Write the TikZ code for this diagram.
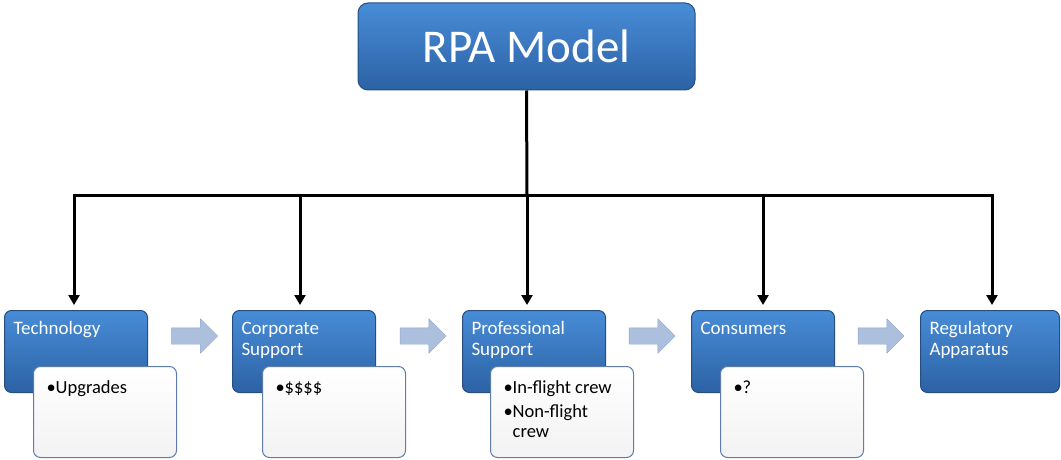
\documentclass[tikz,border=0pt]{standalone}
\usepackage{fontspec}
\setmainfont{Carlito}
\usetikzlibrary{arrows.meta,positioning,shapes.arrows}
\definecolor{RPABlueTop}{RGB}{72,140,215}
\definecolor{RPABlueBottom}{RGB}{44,98,165}
\definecolor{RPABlueEdge}{RGB}{38,78,128}
\definecolor{NoteEdge}{RGB}{95,125,172}
\definecolor{FlowFill}{RGB}{172,192,222}
\definecolor{FlowEdge}{RGB}{140,165,205}

\newcommand{\noteItem}[1]{\par\parskip=4pt\setbox0\hbox{•}\hangindent=\wd0 \noindent•\strut#1}

\begin{document}
\begin{tikzpicture}[
        x=1pt,y=-1pt,
        every node/.style={font=\fontsize{18.5}{20}\selectfont},
        topBox/.style={draw=RPABlueEdge,line width=1pt,rounded corners=10pt,top color=RPABlueTop,bottom color=RPABlueBottom,text=white,minimum width=337pt,minimum height=87pt,inner sep=0pt,font=\fontsize{47}{56}\selectfont},
        stageBox/.style={draw=RPABlueEdge,line width=1pt,rounded corners=7pt,top color=RPABlueTop,bottom color=RPABlueBottom,text=white,anchor=north west,inner xsep=9pt,inner ysep=10pt,font=\fontsize{19}{20.5}\selectfont},
        noteBox/.style={draw=NoteEdge,line width=1pt,rounded corners=7pt,top color=white,bottom color=black!5,text=black,anchor=north west,inner xsep=13pt,inner ysep=13pt},
        flowArrow/.style={single arrow,draw=FlowEdge,fill=FlowFill,inner sep=8pt,minimum height=46pt,single arrow head extend=9pt,single arrow head indent=0pt},
        tree/.style={line width=3pt},
        treeArrow/.style={tree,-{Triangle[length=10pt,width=11pt]},shorten >=5pt}]
        \useasboundingbox (0,0) rectangle (1061,460);
        \node[topBox] (rpa) at (526.5,46.5) {RPA Model};
        % stages
        \node[stageBox] (tech) at (4,310) {\parbox[t][62pt][t]{125pt}{\raggedright\strut Technology}};
        \node[stageBox] (corp) at (232,310) {\parbox[t][62pt][t]{125pt}{\raggedright\strut Corporate\\Support}};
        \node[stageBox] (prof) at (462,310) {\parbox[t][62pt][t]{125pt}{\raggedright\strut Professional\\Support}};
        \node[stageBox] (cons) at (691,310) {\parbox[t][62pt][t]{125pt}{\raggedright\strut Consumers}};
        \node[stageBox] (reg) at (920,310) {\parbox[t][62pt][t]{121pt}{\raggedright\strut Regulatory\\Apparatus}};
        % notes under the stages
        \node[noteBox] (techNote) at (33,366) {\parbox[t][65pt][t]{117pt}{\raggedright\noteItem{Upgrades}}};
        \node[noteBox] (corpNote) at (262,366) {\parbox[t][65pt][t]{117pt}{\raggedright\noteItem{\$\$\$\$}}};
        \node[noteBox] (profNote) at (490,366) {\parbox[t][65pt][t]{117pt}{\raggedright\noteItem{In-flight crew}\noteItem{Non-flight crew}}};
        \node[noteBox] (consNote) at (720,366) {\parbox[t][65pt][t]{117pt}{\raggedright\noteItem{?}}};
        % flow between stages
        \node[flowArrow] (flow1) at (190.5,336) {};
        \node[flowArrow] (flow2) at (419,336) {};
        \node[flowArrow] (flow3) at (648,336) {};
        \node[flowArrow] (flow4) at (877,336) {};
        % tree
        \coordinate (bus) at (527,195);
        \draw[tree] (rpa.south) -- (bus);
        \draw[treeArrow] (bus) -| ([xshift=-2pt]tech.north);
        \draw[treeArrow] (bus) -| ([xshift=-4pt]corp.north);
        \draw[treeArrow] (bus) -- (bus |- prof.north);
        \draw[treeArrow] (bus) -| (cons.north);
        \draw[treeArrow] (bus) -| ([xshift=2pt]reg.north);
      \end{tikzpicture}
\end{document}
